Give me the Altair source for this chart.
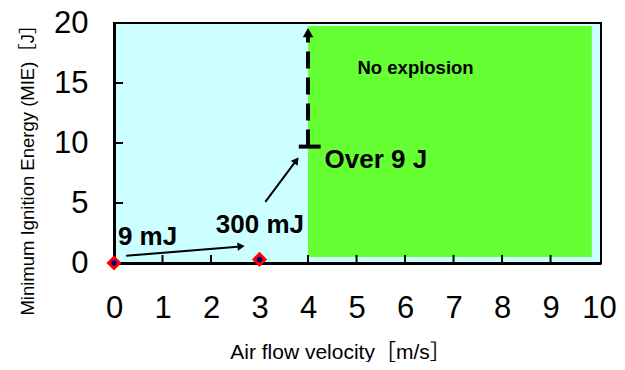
import altair as alt
import pandas as pd

# data
pts_x = [0, 3]
pts_y = [0.009, 0.3]

zone_x, zone_x2, zone_y, zone_y2 = [4.0], [9.85], [0.5], [19.75]

x_ticks = [1, 2, 3, 4, 5, 6, 7, 8, 9]
y_ticks = [5, 10, 15]

# thin annotation arrows (start -> end)
arr_x = [0.25, 3.12]
arr_y = [0.6, 5.1]
arr_x2 = [2.55, 3.72]
arr_y2 = [1.35, 8.35]
arr_hx = [2.62, 3.76]
arr_hy = [1.39, 8.55]
arr_angle = [85, 37]

# dashed limit arrow
lim_x = [4.0]
lim_y = [9.7]
lim_y2 = [18.9]
lim_head_y = [19.2]
cap_x = [3.81]
cap_x2 = [4.26]

labels = ["9 mJ", "300 mJ", "Over 9 J"]
lab_x = [0.08, 2.1, 4.34]
lab_y = [2.17, 3.2, 8.58]

ne_text = ["No explosion"]
ne_x = [5.02]
ne_y = [16.25]

FONT = "Liberation Sans, Arial, Noto Sans CJK JP"

xs = alt.Scale(domain=[0, 10.04], nice=False)
ys = alt.Scale(domain=[0, 20], nice=False)

zone = pd.DataFrame({"x": zone_x, "x2": zone_x2, "y": zone_y, "y2": zone_y2})
base_rect = alt.Chart(zone).mark_rect(color="#66FF33").encode(
    x=alt.X("x:Q", scale=xs,
            axis=alt.Axis(values=list(range(0, 11)), title="Air flow velocity［m/s］",
                          labelFontSize=31, labelPadding=30, ticks=False, grid=False,
                          labelFlush=False, labelOverlap=False,
                          domainColor="black", domainWidth=3, labelColor="black",
                          labelFont=FONT, titleFont=FONT, titleFontSize=21,
                          titleFontWeight="normal", titleColor="black",
                          titleX=226, titleY=89, titleBaseline="middle")),
    x2="x2:Q",
    y=alt.Y("y:Q", scale=ys,
            axis=alt.Axis(values=[0, 5, 10, 15, 20], title="Minimum Ignition Energy (MIE)［J］",
                          labelFontSize=31, labelPadding=26, ticks=False, grid=False,
                          labelFlush=False, labelOverlap=False,
                          domainColor="black", domainWidth=3, labelColor="black",
                          labelFont=FONT, titleFont=FONT, titleFontSize=18.5,
                          titleFontWeight="normal", titleColor="black",
                          titleX=-87, titleY=142, titleBaseline="middle", titleAngle=-90)),
    y2="y2:Q",
)

xt = alt.Chart(pd.DataFrame({"x": x_ticks})).mark_rule(color="black", strokeWidth=2).encode(
    x=alt.X("x:Q", scale=xs), y=alt.value(240), y2=alt.value(232))
yt = alt.Chart(pd.DataFrame({"y": y_ticks})).mark_rule(color="black", strokeWidth=2).encode(
    y=alt.Y("y:Q", scale=ys), x=alt.value(0), x2=alt.value(9))

arr = pd.DataFrame({"x": arr_x, "y": arr_y, "x2": arr_x2, "y2": arr_y2,
                    "hx": arr_hx, "hy": arr_hy, "a": arr_angle})
arr_lines = alt.Chart(arr).mark_rule(color="black", strokeWidth=2).encode(
    x=alt.X("x:Q", scale=xs), y=alt.Y("y:Q", scale=ys), x2="x2:Q", y2="y2:Q")
arr_heads = alt.Chart(arr).mark_point(shape="triangle-up", filled=True, color="black",
                                      size=70, opacity=1).encode(
    x=alt.X("hx:Q", scale=xs), y=alt.Y("hy:Q", scale=ys),
    angle=alt.Angle("a:Q", scale=None))

lim = pd.DataFrame({"x": lim_x, "y": lim_y, "y2": lim_y2, "hy": lim_head_y,
                    "cx": cap_x, "cx2": cap_x2})
lim_line = alt.Chart(lim).mark_rule(color="black", strokeWidth=4, strokeDash=[17, 9]).encode(
    x=alt.X("x:Q", scale=xs), y=alt.Y("y:Q", scale=ys), y2="y2:Q")
lim_cap = alt.Chart(lim).mark_rule(color="black", strokeWidth=4).encode(
    x=alt.X("cx:Q", scale=xs), x2="cx2:Q", y=alt.Y("y:Q", scale=ys))
lim_head = alt.Chart(lim).mark_point(shape="triangle-up", filled=True, color="black",
                                     size=110, opacity=1).encode(
    x=alt.X("x:Q", scale=xs), y=alt.Y("hy:Q", scale=ys))

pts = pd.DataFrame({"x": pts_x, "y": pts_y})
pt_outer = alt.Chart(pts).mark_point(shape="diamond", filled=True, color="#FF0000",
                                     size=230, opacity=1).encode(
    x=alt.X("x:Q", scale=xs), y=alt.Y("y:Q", scale=ys))
pt_inner = alt.Chart(pts).mark_point(shape="circle", filled=True, color="#000080",
                                     size=30, opacity=1).encode(
    x=alt.X("x:Q", scale=xs), y=alt.Y("y:Q", scale=ys))

lab = pd.DataFrame({"t": labels, "x": lab_x, "y": lab_y})
lab_text = alt.Chart(lab).mark_text(align="left", baseline="middle", fontSize=26,
                                    fontWeight="bold", font=FONT, color="black").encode(
    x=alt.X("x:Q", scale=xs), y=alt.Y("y:Q", scale=ys), text="t:N")

ne = pd.DataFrame({"t": ne_text, "x": ne_x, "y": ne_y})
ne_t = alt.Chart(ne).mark_text(align="left", baseline="middle", fontSize=18.5,
                               fontWeight="bold", font=FONT, color="black").encode(
    x=alt.X("x:Q", scale=xs), y=alt.Y("y:Q", scale=ys), text="t:N")

chart = alt.layer(base_rect, xt, yt, arr_lines, arr_heads, lim_line, lim_cap, lim_head,
                  pt_outer, pt_inner, lab_text, ne_t).properties(
    width=487, height=240,
    autosize=alt.AutoSizeParams(type="none"),
    padding={"left": 106, "top": 15, "right": 16, "bottom": 99},
    background="white",
).configure_view(fill="#CCFFFF", stroke="black", strokeWidth=2)

chart.save("out.html", embed_options={"renderer": "svg", "actions": False})
